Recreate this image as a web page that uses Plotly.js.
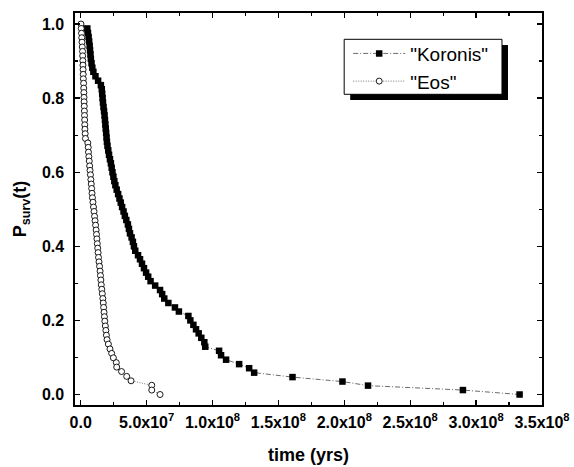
<!DOCTYPE html>
<html>
<head>
<meta charset="utf-8">
<script src="https://cdn.plot.ly/plotly-3.0.1.min.js"></script>
<style>
  html, body { margin: 0; padding: 0; background: #fff; }
  #chart { width: 574px; height: 467px; }
</style>
</head>
<body>
<div id="chart"></div>
<script>
// Survival probability of family members versus time (time in Myr on the axis, labelled in years)
const koronisTime = [
  5.0, 5.5, 6.0, 6.4, 6.8, 7.1, 7.4, 7.7, 8.2, 8.8,
  9.6, 11.2, 13.2, 15.3, 16.0, 16.3, 16.6, 16.9, 17.3, 17.7,
  18.1, 18.4, 18.7, 19.0, 19.3, 19.6, 19.9, 20.3, 20.9, 21.5,
  22.2, 22.9, 23.5, 24.1, 24.8, 25.5, 26.3, 27.3, 28.4, 29.4,
  30.4, 31.4, 32.5, 33.5, 34.6, 35.8, 36.6, 37.4, 38.6, 39.6,
  40.4, 41.4, 43.5, 45.0, 46.5, 48.0, 49.6, 51.2, 53.0, 56.5,
  60.2, 61.8, 63.4, 66.5, 71.5, 74.5, 81.7, 83.2, 85.5, 87.5,
  89.5, 91.5, 93.8, 94.5, 105.0, 106.5, 110.3, 120.2, 127.8, 131.6,
  160.7, 198.6, 218.0, 290.0, 333.0
];
const koronisPsurv = [
  0.988, 0.976, 0.965, 0.953, 0.941, 0.929, 0.918, 0.906, 0.894, 0.882,
  0.871, 0.859, 0.847, 0.835, 0.824, 0.812, 0.800, 0.788, 0.776, 0.765,
  0.753, 0.741, 0.729, 0.718, 0.706, 0.694, 0.682, 0.671, 0.659, 0.647,
  0.635, 0.624, 0.612, 0.600, 0.588, 0.576, 0.565, 0.553, 0.541, 0.529,
  0.518, 0.506, 0.494, 0.482, 0.471, 0.459, 0.447, 0.435, 0.424, 0.412,
  0.400, 0.388, 0.376, 0.365, 0.353, 0.341, 0.329, 0.318, 0.306, 0.294,
  0.282, 0.271, 0.259, 0.247, 0.235, 0.224, 0.212, 0.200, 0.188, 0.176,
  0.165, 0.153, 0.141, 0.129, 0.118, 0.106, 0.094, 0.082, 0.071, 0.059,
  0.047, 0.035, 0.024, 0.012, 0.000
];

const eosTime = [
  0.2, 0.4, 0.6, 0.8, 1.0, 1.2, 1.4, 1.5, 1.6, 1.7,
  1.8, 1.9, 2.0, 2.2, 2.3, 2.4, 2.5, 2.6, 2.7, 2.8,
  2.9, 3.0, 3.1, 3.2, 3.4, 3.6, 5.4, 5.7, 5.9, 6.2,
  6.5, 6.8, 7.1, 7.4, 7.7, 8.0, 8.3, 8.6, 8.9, 9.3,
  9.7, 10.1, 10.5, 10.9, 11.3, 11.7, 12.0, 12.3, 12.6, 12.9,
  13.2, 13.5, 13.9, 14.3, 14.7, 15.0, 15.3, 15.6, 16.0, 16.4,
  16.8, 17.1, 17.4, 17.7, 18.0, 18.3, 18.7, 19.1, 19.5, 20.0,
  21.0, 22.2, 23.5, 24.8, 27.0, 27.3, 31.0, 34.9, 38.2, 53.9,
  53.9, 60.2
];
const eosPsurv = [
  1.000, 0.988, 0.975, 0.963, 0.951, 0.938, 0.926, 0.914, 0.901, 0.889,
  0.877, 0.864, 0.852, 0.840, 0.827, 0.815, 0.802, 0.790, 0.778, 0.765,
  0.753, 0.741, 0.728, 0.716, 0.704, 0.691, 0.679, 0.667, 0.654, 0.642,
  0.630, 0.617, 0.605, 0.593, 0.580, 0.568, 0.556, 0.543, 0.531, 0.519,
  0.506, 0.494, 0.481, 0.469, 0.457, 0.444, 0.432, 0.420, 0.407, 0.395,
  0.383, 0.370, 0.358, 0.346, 0.333, 0.321, 0.309, 0.296, 0.284, 0.272,
  0.259, 0.247, 0.235, 0.222, 0.210, 0.198, 0.185, 0.173, 0.160, 0.148,
  0.136, 0.123, 0.111, 0.099, 0.086, 0.074, 0.062, 0.049, 0.037, 0.025,
  0.012, 0.000
];

const xTickVals = [0, 50, 100, 150, 200, 250, 300, 350];
const xTickText = ['0.0', '5.0x10<sup>7</sup>', '1.0x10<sup>8</sup>', '1.5x10<sup>8</sup>',
                   '2.0x10<sup>8</sup>', '2.5x10<sup>8</sup>', '3.0x10<sup>8</sup>', '3.5x10<sup>8</sup>'];
const seriesNames = ['"Koronis"', '"Eos"'];

const FONT = 'Liberation Sans, Arial, Helvetica, sans-serif';

const traces = [
  {
    x: koronisTime, y: koronisPsurv, name: seriesNames[0],
    type: 'scatter', mode: 'lines+markers',
    line: { color: '#444', width: 0.8, dash: '5px,2px,1px,2px' },
    marker: { symbol: 'square', size: 6.5, color: '#000', line: { width: 0 } }
  },
  {
    x: eosTime, y: eosPsurv, name: seriesNames[1],
    type: 'scatter', mode: 'lines+markers',
    line: { color: '#555', width: 0.8, dash: '1px,1.5px' },
    marker: { symbol: 'circle', size: 6, color: '#fff', line: { color: '#000', width: 0.9 } }
  }
];

const axisCommon = {
  showgrid: false, zeroline: false,
  showline: true, linecolor: '#000', linewidth: 1.6,
  mirror: 'ticks', ticks: 'inside', ticklen: 5, tickwidth: 1.4, tickcolor: '#000',
  tickfont: { family: FONT, size: 16, color: '#000', weight: 'bold' }
};

const layout = {
  width: 574, height: 467,
  margin: { l: 75, r: 32.3, t: 13, b: 62 },
  paper_bgcolor: '#fff', plot_bgcolor: '#fff',
  showlegend: true,
  xaxis: Object.assign({}, axisCommon, {
    range: [-4.33, 350],
    tickmode: 'array', tickvals: xTickVals, ticktext: xTickText,
    ticklabelstandoff: 2,
    minor: { dtick: 25, tick0: 0, ticks: 'inside', ticklen: 3, tickwidth: 1.2, tickcolor: '#000' },
    title: { text: 'time (yrs)', font: { family: FONT, size: 18, color: '#000', weight: 'bold' }, standoff: 18 }
  }),
  yaxis: Object.assign({}, axisCommon, {
    range: [-0.0283, 1.0297],
    tickmode: 'linear', tick0: 0, dtick: 0.2, tickformat: '.1f',
    ticklabelstandoff: 6,
    minor: { dtick: 0.1, tick0: 0, ticks: 'inside', ticklen: 3, tickwidth: 1.2, tickcolor: '#000' },
    title: { text: 'P<sub>surv</sub>(t)', font: { family: FONT, size: 18, color: '#000', weight: 'bold' }, standoff: 10 }
  }),
  legend: {
    x: 0.585, xanchor: 'left', y: 0.945, yanchor: 'top',
    bgcolor: 'rgba(0,0,0,0)', borderwidth: 0,
    itemwidth: 52,
    font: { family: FONT, size: 19, color: '#000' },
    tracegroupgap: 0
  },
  shapes: [
    // drop shadow behind the legend box
    { type: 'rect', xref: 'paper', yref: 'paper', x0: 0.5893, x1: 0.9272, y0: 0.7781, y1: 0.9184,
      fillcolor: '#000', line: { width: 0 }, layer: 'above' },
    // legend box
    { type: 'rect', xref: 'paper', yref: 'paper', x0: 0.5764, x1: 0.9143, y0: 0.7926, y1: 0.9329,
      fillcolor: '#fff', line: { color: '#000', width: 1 }, layer: 'above' }
  ]
};

Plotly.newPlot('chart', traces, layout, { staticPlot: true, displayModeBar: false });
</script>
</body>
</html>
